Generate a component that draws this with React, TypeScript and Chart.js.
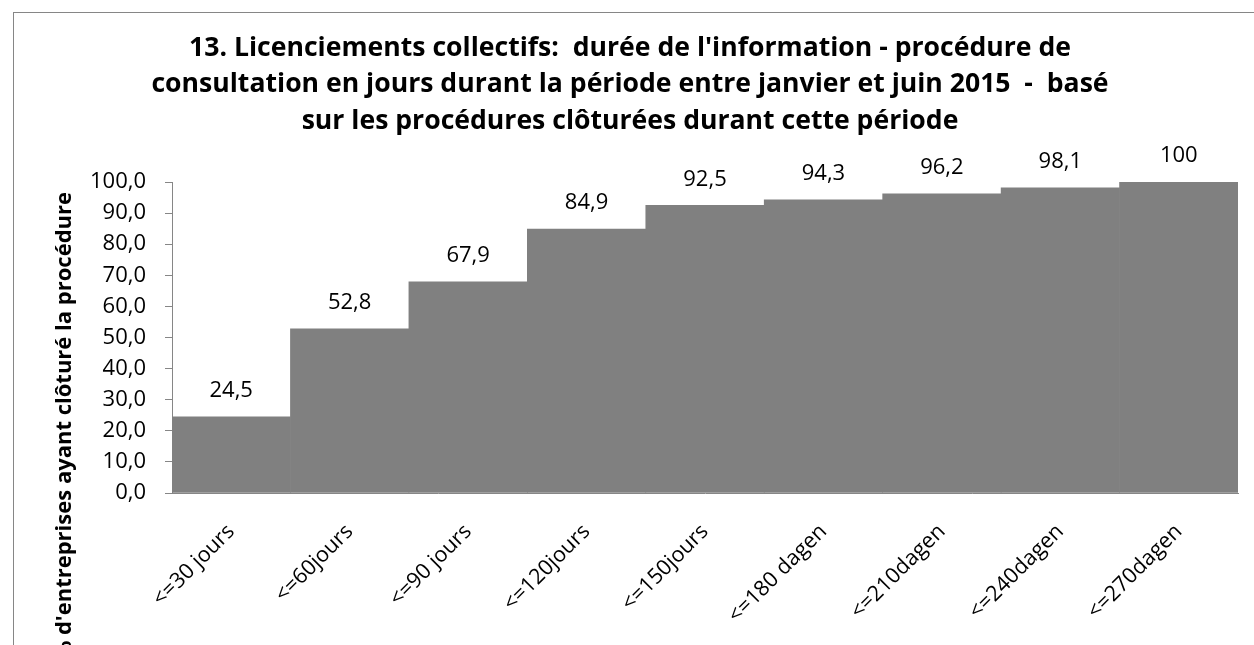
import React, { useEffect, useRef } from "react";
import { Chart, registerables } from "chart.js";

Chart.register(...registerables);

const categories = [
  "<=30 jours",
  "<=60jours",
  "<=90 jours",
  "<=120jours",
  "<=150jours",
  "<=180 dagen",
  "<=210dagen",
  "<=240dagen",
  "<=270dagen",
];
const values = [24.5, 52.8, 67.9, 84.9, 92.5, 94.3, 96.2, 98.1, 100];
const titleLines = [
  "13. Licenciements collectifs:  durée de l'information - procédure de",
  "consultation en jours durant la période entre janvier et juin 2015  -  basé",
  "sur les procédures clôturées durant cette période",
];
const yTitle = "% d'entreprises ayant clôturé la procédure";

const FONT = "'Open Sans', Lato, sans-serif";

const framePlugin = {
  id: "frame",
  beforeDraw(chart: any) {
    const ctx = chart.ctx;
    ctx.save();
    ctx.fillStyle = "#ffffff";
    ctx.fillRect(0, 0, chart.width, chart.height);
    ctx.strokeStyle = "#868686";
    ctx.lineWidth = 1;
    ctx.strokeRect(13.5, 12.5, chart.width + 20, chart.height + 20);
    // title
    ctx.fillStyle = "#000000";
    ctx.font = `bold 26.6px ${FONT}`;
    ctx.textAlign = "center";
    ctx.textBaseline = "middle";
    titleLines.forEach((line, i) => {
      ctx.fillText(line, 630, 48 + i * 36.5);
    });
    ctx.restore();
  },
};

const labelsPlugin = {
  id: "valueLabels",
  afterDatasetsDraw(chart: any) {
    const ctx = chart.ctx;
    const meta = chart.getDatasetMeta(0);
    ctx.save();
    ctx.fillStyle = "#000000";
    ctx.font = `22px ${FONT}`;
    ctx.textAlign = "center";
    ctx.textBaseline = "middle";
    meta.data.forEach((bar: any, i: number) => {
      const v = values[i];
      ctx.fillText(String(v).replace(".", ","), bar.x, bar.y - 26);
    });
    // y axis title
    ctx.font = `bold 22px ${FONT}`;
    ctx.translate(65, 192);
    ctx.rotate(-Math.PI / 2);
    ctx.textAlign = "right";
    ctx.textBaseline = "middle";
    ctx.fillText(yTitle, 0, 0);
    ctx.restore();
  },
};

export default function App() {
  const ref = useRef<HTMLCanvasElement | null>(null);
  useEffect(() => {
    if (!ref.current) return;
    const chart = new Chart(ref.current, {
      type: "bar",
      data: {
        labels: categories,
        datasets: [
          {
            data: values,
            backgroundColor: "#808080",
            borderWidth: 0,
            categoryPercentage: 1,
            barPercentage: 1,
          },
        ],
      },
      options: {
        animation: false,
        responsive: false,
        maintainAspectRatio: false,
        layout: { padding: { left: 0, right: 16, top: 182, bottom: 0 } },
        plugins: {
          legend: { display: false },
          tooltip: { enabled: false },
          title: { display: false },
        },
        scales: {
          x: {
            grid: { display: false },
            border: { display: true, color: "#868686", width: 1 },
            ticks: {
              color: "#000000",
              font: { family: FONT, size: 21.5 },
              minRotation: 45,
              maxRotation: 45,
              padding: 18,
              autoSkip: false,
            },
            afterFit: (scale: any) => {
              scale.height = 152;
            },
          },
          y: {
            min: 0,
            max: 100,
            grid: {
              display: true,
              drawOnChartArea: false,
              drawTicks: true,
              tickLength: 7,
              color: "#868686",
            },
            border: { display: true, color: "#868686", width: 1 },
            ticks: {
              stepSize: 10,
              color: "#000000",
              font: { family: FONT, size: 22 },
              padding: 19,
              callback: (v: any) => Number(v).toFixed(1).replace(".", ","),
            },
            afterFit: (scale: any) => {
              scale.width = 172;
            },
          },
        },
      },
      plugins: [framePlugin, labelsPlugin],
    });
    return () => chart.destroy();
  }, []);
  return (
    <div style={{ position: "fixed", left: 0, top: 0, width: 1254, height: 645, background: "#fff" }}>
      <canvas ref={ref} width={1254} height={645} style={{ display: "block" }} />
    </div>
  );
}
